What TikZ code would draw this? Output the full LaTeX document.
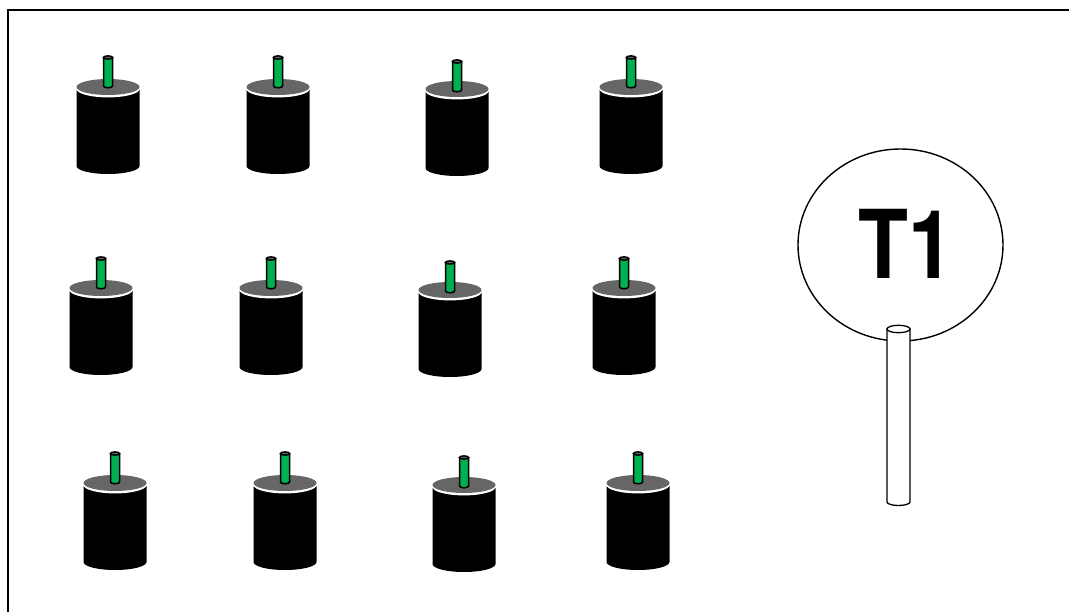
\documentclass[tikz,border=0pt]{standalone}
\usepackage{fontspec}
\setmainfont{TeX Gyre Heros}
\definecolor{topgrey}{RGB}{102,102,102}
\definecolor{pingreen}{RGB}{0,176,80}
\tikzset{
  x=1pt,y=-1pt,
  frameline/.style={line width=1.8pt,black},
  postline/.style={line width=1.3pt,black,fill=white},
}
% #1 = x centre, #2 = y of the top disc centre, #3 = pin drop
\newcommand{\magnet}[3]{%
  \begin{scope}[shift={(#1,#2)}]
    \fill[black] (-31.5,3) -- (-31.5,79) arc[start angle=180,end angle=0,x radius=31.5,y radius=8] -- (31.5,3) -- cycle;
    \fill[white] (0,2) ellipse[x radius=31.5,y radius=8.4];
    \fill[topgrey] (0,0) ellipse[x radius=31.5,y radius=8];
    \begin{scope}[yshift=-#3pt]
    \draw[black,line width=1.5pt,fill=pingreen] (-4.5,-29.5) -- (-4.5,-1) arc[start angle=180,end angle=0,x radius=4.5,y radius=1.8] -- (4.5,-29.5) -- cycle;
    \draw[black,line width=1.5pt,fill=topgrey] (0,-29.5) ellipse[x radius=4.5,y radius=1.6];
    \end{scope}
  \end{scope}%
}
\begin{document}
\begin{tikzpicture}
\useasboundingbox (0,0) rectangle (1069,612);
\draw[frameline] (1069,10) -- (8,10) -- (8,612);
\magnet{108}{87}{0}\magnet{278}{87}{0}\magnet{457}{89}{2}\magnet{631}{87}{0}
\magnet{101}{288}{0}\magnet{271}{288}{0}\magnet{450}{290}{2}\magnet{624}{288}{0}
\magnet{115}{483}{0}\magnet{285}{483}{0}\magnet{464}{485}{2}\magnet{638}{483}{0}
\draw[line width=1.4pt] (900.5,245) ellipse[x radius=102.5,y radius=96];
\node[inner sep=0pt,font=\bfseries,xscale=0.86] (label) at (906,243.5) {\fontsize{95}{95}\selectfont T1};
\draw[postline] (887,329) -- (887,502) arc[start angle=180,end angle=0,x radius=11.5,y radius=3.5] -- (910,329) -- cycle;
\draw[postline] (898.5,329) ellipse[x radius=11.5,y radius=3.7];
\end{tikzpicture}
\end{document}
